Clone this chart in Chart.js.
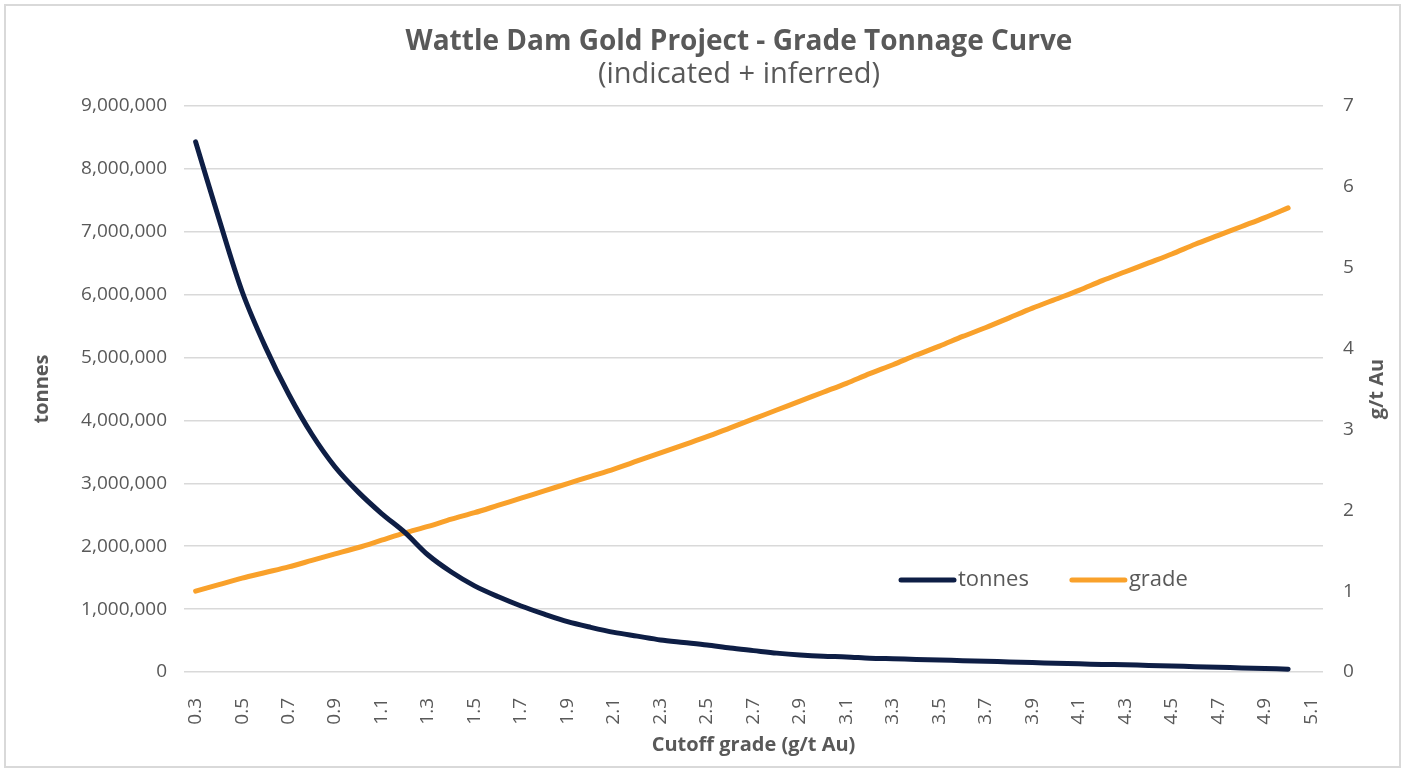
<!DOCTYPE html>
<html><head><meta charset="utf-8">
<script src="https://cdn.jsdelivr.net/npm/chart.js@4.4.1/dist/chart.umd.min.js"></script>
<style>
html,body{margin:0;padding:0;background:#fff;}
#wrap{position:relative;width:1405px;height:771px;}
#frame{position:absolute;left:4px;top:4px;width:1393px;height:760px;border:2px solid #d9d9d9;pointer-events:none;}
canvas{position:absolute;left:0;top:0;}
</style></head><body>
<div id="wrap"><canvas id="c" width="1405" height="771"></canvas><div id="frame"></div></div>
<script>
const categories = ['0.3','0.4','0.5','0.6','0.7','0.8','0.9','1.0','1.1','1.2','1.3','1.4','1.5','1.6','1.7','1.8','1.9','2.0','2.1','2.2','2.3','2.4','2.5','2.6','2.7','2.8','2.9','3.0','3.1','3.2','3.3','3.4','3.5','3.6','3.7','3.8','3.9','4.0','4.1','4.2','4.3','4.4','4.5','4.6','4.7','4.8','4.9','5.0','5.1'];
const tonnes = [8430000,7210000,6050000,5170000,4420000,3780000,3260000,2860000,2520000,2220000,1860000,1590000,1370000,1200000,1050000,920000,800000,710000,630000,570000,510000,470000,430000,380000,340000,300000,270000,250000,240000,220000,210000,200000,190000,180000,170000,160000,150000,140000,130000,120000,115000,105000,95000,85000,75000,65000,55000,45000,null];
const grade = [1.00,1.08,1.16,1.23,1.30,1.38,1.46,1.54,1.63,1.72,1.80,1.89,1.97,2.06,2.15,2.24,2.33,2.42,2.51,2.61,2.71,2.81,2.91,3.02,3.13,3.24,3.35,3.46,3.57,3.69,3.80,3.92,4.03,4.15,4.26,4.38,4.50,4.61,4.72,4.84,4.95,5.06,5.17,5.29,5.40,5.51,5.62,5.74,null];
const seriesNames = ['tonnes','grade'];
const titleText = 'Wattle Dam Gold Project - Grade Tonnage Curve';
const subtitleText = '(indicated + inferred)';
const xTitle = 'Cutoff grade (g/t Au)';
const yTitle = 'tonnes';
const y1Title = 'g/t Au';

const FONT = "'Open Sans', sans-serif";
const GREY = '#595959';
const NAVY = '#0E1E45';
const ORANGE = '#F9A12B';

const titlesPlugin = {
  id: 'titles',
  afterDraw(chart) {
    const ctx = chart.ctx;
    ctx.save();
    ctx.fillStyle = GREY;
    ctx.textAlign = 'center';
    ctx.textBaseline = 'alphabetic';
    ctx.font = "bold 28px " + FONT;
    ctx.fillText(titleText, 739, 50);
    ctx.font = "29px " + FONT;
    ctx.fillText(subtitleText, 739, 83);
    // right axis title, reading bottom-to-top like the left one
    const s = chart.scales.y1, ca = chart.chartArea;
    ctx.translate(s.right - 28, (ca.top + ca.bottom) / 2);
    ctx.rotate(-Math.PI / 2);
    ctx.font = "bold 20px " + FONT;
    ctx.textBaseline = 'middle';
    ctx.fillText(y1Title, 0, 0);
    ctx.restore();
  }
};

const insideLegendPlugin = {
  id: 'insideLegend',
  afterDraw(chart) {
    const ctx = chart.ctx;
    let x = 901; const y = 580;
    ctx.save();
    ctx.font = "22px " + FONT;
    ctx.textBaseline = 'middle';
    chart.data.datasets.forEach(ds => {
      ctx.strokeStyle = ds.borderColor;
      ctx.lineWidth = 5;
      ctx.lineCap = 'round';
      ctx.beginPath(); ctx.moveTo(x, y); ctx.lineTo(x + 53, y); ctx.stroke();
      ctx.fillStyle = GREY;
      ctx.fillText(ds.label, x + 57, y);
      x += 57 + ctx.measureText(ds.label).width + 43;
    });
    ctx.restore();
  }
};

new Chart(document.getElementById('c'), {
  type: 'line',
  data: {
    labels: categories,
    datasets: [
      { label: seriesNames[0], data: tonnes, yAxisID: 'y', borderColor: NAVY, backgroundColor: NAVY, borderWidth: 5, pointRadius: 0, tension: 0.3, borderCapStyle: 'round', borderJoinStyle: 'round' },
      { label: seriesNames[1], data: grade, yAxisID: 'y1', borderColor: ORANGE, backgroundColor: ORANGE, borderWidth: 5, pointRadius: 0, tension: 0.3, borderCapStyle: 'round', borderJoinStyle: 'round' }
    ]
  },
  options: {
    responsive: false,
    devicePixelRatio: 1,
    animation: false,
    layout: { padding: { top: 106, left: 0, right: 0, bottom: 0 } },
    plugins: {
      legend: { display: false },
      tooltip: { enabled: false },
      title: { display: false },
      subtitle: { display: false }
    },
    scales: {
      x: {
        type: 'category',
        offset: true,
        grid: { display: false },
        border: { display: false },
        ticks: {
          autoSkip: false, maxRotation: 90, minRotation: 90, padding: 18,
          color: GREY, font: { family: FONT, size: 19 },
          callback: function(v, i) { return i % 2 === 0 ? categories[i] : ''; }
        },
        title: { display: true, text: xTitle, color: GREY, font: { family: FONT, size: 20, weight: 'bold' }, padding: { top: 0, bottom: 14 } },
        afterFit(s) { s.height = 99; }
      },
      y: {
        position: 'left', min: 0, max: 9000000,
        grid: { color: '#D9D9D9', lineWidth: 1.5, drawTicks: false },
        border: { display: false },
        ticks: { stepSize: 1000000, padding: 17, color: GREY, font: { family: FONT, size: 19 },
          callback: v => v.toLocaleString('en-US') },
        title: { display: true, text: yTitle, color: GREY, font: { family: FONT, size: 20, weight: 'bold' }, padding: { top: 30, bottom: 0 } },
        afterFit(s) { s.width = 184; }
      },
      y1: {
        position: 'right', min: 0, max: 7,
        grid: { display: false, drawOnChartArea: false },
        border: { display: false },
        ticks: { stepSize: 1, padding: 12, color: GREY, font: { family: FONT, size: 19 } },
        afterFit(s) { s.width = 82; }
      }
    }
  },
  plugins: [titlesPlugin, insideLegendPlugin]
});
</script>
</body></html>
